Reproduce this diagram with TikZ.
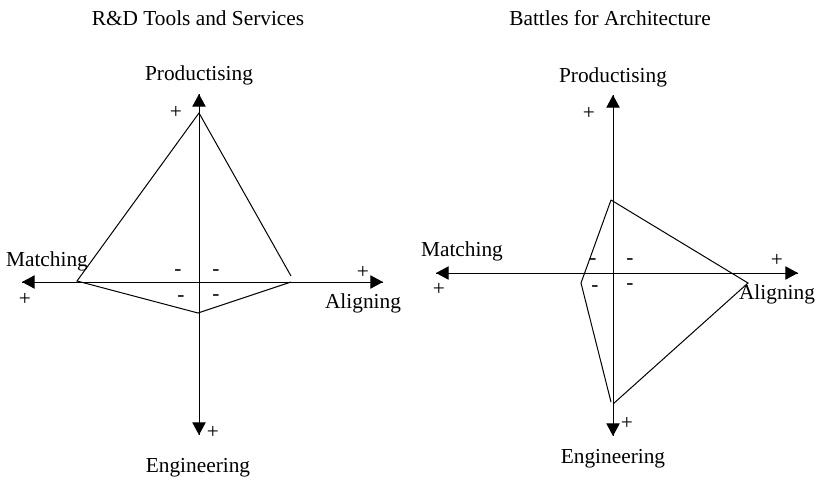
\documentclass[tikz,border=0pt]{standalone}
\usepackage{fontspec}
\setmainfont{Liberation Serif}
\usetikzlibrary{arrows.meta}
\begin{document}
\begin{tikzpicture}[x=0.75pt,y=-0.75pt,
  axis/.style={line width=0.75pt,-{Triangle[length=9.5pt,width=10pt]}},
  shape line/.style={line width=0.75pt,line join=miter},
  lbl/.style={inner sep=0pt,yshift=-1.5pt,font=\fontsize{16}{19}\selectfont},
  sgn/.style={inner sep=0pt,yshift=-1pt,font=\fontsize{16}{19}\selectfont}]
\useasboundingbox (0,0) rectangle (816,483);
% ---------- left chart ----------
\coordinate (n1) at (199,94);
\coordinate (s1) at (199,435);
\coordinate (w1) at (22,282);
\coordinate (e1) at (383,282);
\draw[axis] (s1) -- (n1);
\draw[axis] (n1) -- (s1);
\draw[axis] (e1) -- (w1);
\draw[axis] (w1) -- (e1);
\coordinate (t1) at (199,113);
\coordinate (l1) at (77,281);
\coordinate (b1) at (198,313);
\coordinate (r1) at (291,282);
\coordinate (ru1) at (291,276);
\draw[shape line] (ru1) -- (t1) -- (l1) -- (b1) -- (r1);
\node[lbl] (title1) at (198,16) {R\&D Tools and Services};
\node[lbl] (prod1) at (199,73) {Productising};
\node[lbl] (eng1) at (198,466) {Engineering};
\node[lbl] (match1) at (47,259) {Matching};
\node[lbl] (align1) at (363,301) {Aligning};
\node[sgn] (pt1) at (176,111) {+};
\node[sgn] (pl1) at (25,298) {+};
\node[sgn] (pr1) at (363,271) {+};
\node[sgn] (pb1) at (213,431) {+};
\node[sgn] (m11) at (178,271) {-};
\node[sgn] (m12) at (216,271) {-};
\node[sgn] (m13) at (181,297) {-};
\node[sgn] (m14) at (216,296) {-};
% ---------- right chart ----------
\coordinate (n2) at (613,95);
\coordinate (s2) at (613,436);
\coordinate (w2) at (436,273);
\coordinate (e2) at (798,273);
\draw[axis] (s2) -- (n2);
\draw[axis] (n2) -- (s2);
\draw[axis] (e2) -- (w2);
\draw[axis] (w2) -- (e2);
\coordinate (t2) at (611,200);
\coordinate (r2) at (748,283);
\coordinate (b2) at (613,404);
\coordinate (bl2) at (611,402);
\coordinate (l2) at (581,283);
\draw[shape line] (t2) -- (r2) -- (b2);
\draw[shape line] (t2) -- (l2) -- (bl2);
\node[lbl] (title2) at (610,16) {Battles for Architecture};
\node[lbl] (prod2) at (613,75) {Productising};
\node[lbl] (eng2) at (613,457) {Engineering};
\node[lbl] (match2) at (462,249) {Matching};
\node[lbl] (align2) at (777,292) {Aligning};
\node[sgn] (pt2) at (589,112) {+};
\node[sgn] (pl2) at (439,288) {+};
\node[sgn] (pr2) at (777,259) {+};
\node[sgn] (pb2) at (627,422) {+};
\node[sgn] (m21) at (593,260) {-};
\node[sgn] (m22) at (630,260) {-};
\node[sgn] (m23) at (595,287) {-};
\node[sgn] (m24) at (630,285) {-};
\end{tikzpicture}
\end{document}
